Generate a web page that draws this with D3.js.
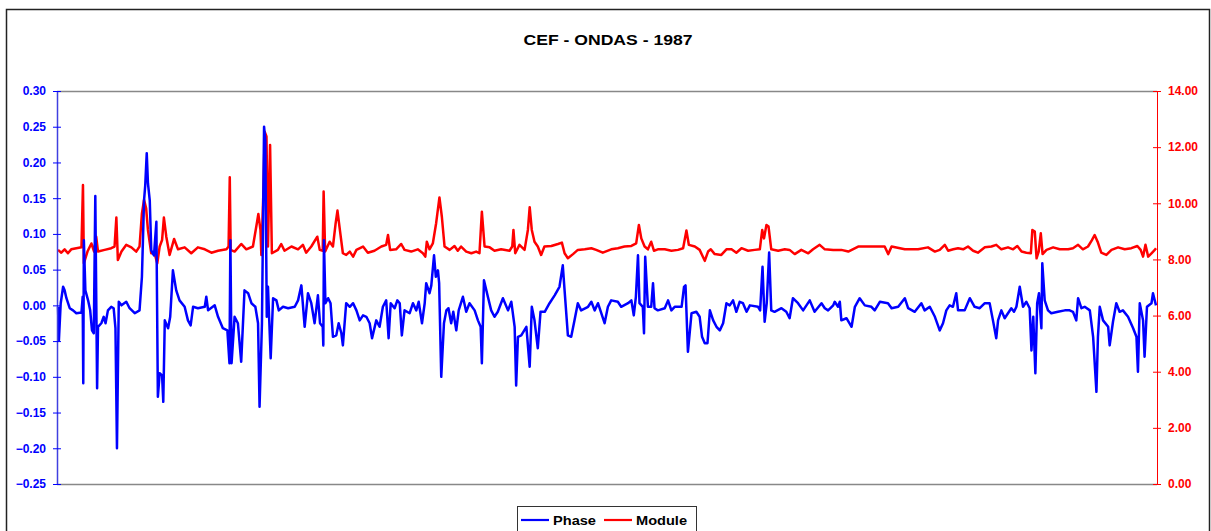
<!DOCTYPE html>
<html>
<head>
<meta charset="utf-8">
<script src="https://cdn.jsdelivr.net/npm/d3@7"></script>
<style>
body { margin: 0; background: #fff; }
svg { display: block; font-family: Arial, "Liberation Sans", sans-serif; }
</style>
</head>
<body>
<div class="chart"></div>
<script>
var title = "CEF - ONDAS - 1987";
var seriesNames = ["Phase", "Module"];
var phaseTicks = [-0.25, -0.20, -0.15, -0.10, -0.05, 0, 0.05, 0.10, 0.15, 0.20, 0.25, 0.30];
var moduleTicks = [0, 2, 4, 6, 8, 10, 12, 14];

// [day of 1987, value]
var phaseData = [
  [0,-0.002],[0.3,-0.049],[0.9,0.003],[1.7,0.026],[2.2,0.021],[2.8,0.010],[3.9,-0.004],[5.0,-0.007],[6.1,-0.011],[7.8,-0.010],
  [8.2,0.012],[8.4,-0.109],[8.6,0.091],[9.1,0.021],[10.0,0.007],[10.7,-0.007],[11.3,-0.035],[11.9,-0.039],[12.4,0.153],[13.0,-0.116],
  [13.3,-0.030],[14.4,-0.025],[15.2,-0.016],[15.8,-0.025],[16.6,-0.007],[17.7,-0.002],[18.5,-0.004],[19.1,-0.032],[19.6,-0.200],[20.2,0.005],
  [21.1,0.000],[22.7,0.005],[23.8,-0.004],[25.5,-0.011],[27.1,-0.007],[27.9,0.040],[28.6,0.147],[29.0,0.168],[29.5,0.213],[29.9,0.171],
  [30.5,0.147],[31.0,0.077],[31.9,0.070],[32.7,0.117],[33.2,-0.128],[33.8,-0.095],[34.6,-0.098],[35.0,-0.135],[35.5,-0.021],[36.6,-0.032],
  [37.3,-0.016],[38.2,0.049],[39.3,0.021],[40.4,0.007],[42.1,-0.002],[43.2,-0.021],[44.1,-0.028],[44.9,-0.002],[46.5,-0.004],[48.8,-0.002],
  [49.3,0.012],[49.9,-0.007],[52.1,0.000],[53.2,-0.016],[54.8,-0.032],[56.3,-0.035],[57.0,-0.081],[57.3,0.091],[57.7,-0.081],[58.7,-0.016],
  [59.8,-0.025],[60.9,-0.079],[62.0,0.021],[63.2,0.017],[64.3,0.003],[65.6,-0.002],[66.5,-0.025],[67.0,-0.142],[67.8,-0.025],[68.5,0.250],
  [68.9,0.231],[69.4,-0.016],[69.8,0.026],[70.7,-0.074],[71.5,0.010],[72.6,0.007],[73.4,-0.007],[74.8,-0.002],[76.5,-0.004],[78.7,-0.002],
  [79.8,0.007],[80.9,0.028],[82.0,-0.030],[83.1,0.017],[84.2,0.003],[85.3,-0.025],[86.4,0.014],[87.1,-0.025],[88.0,-0.030],[88.2,-0.056],
  [88.4,0.091],[88.9,0.003],[89.8,0.010],[90.6,0.003],[91.4,-0.044],[92.5,-0.042],[93.3,-0.025],[94.2,-0.039],[94.7,-0.056],[95.8,0.003],
  [97.0,-0.002],[98.1,0.003],[99.2,-0.007],
  [100.3,-0.021],[101.4,-0.014],[102.5,-0.016],[103.6,-0.025],[104.4,-0.046],[105.8,-0.021],[106.9,-0.030],[108.0,-0.002],[109.1,0.007],[109.9,-0.046],
  [110.6,0.003],[111.9,-0.004],[112.8,0.007],[113.6,0.003],[114.3,-0.042],[115.2,-0.007],[116.9,-0.011],[118.0,0.003],[119.1,-0.007],[119.9,0.005],
  [121.0,-0.025],[121.9,0.003],[122.4,0.031],[123.5,0.017],[124.1,0.028],[125.0,0.070],[125.6,0.040],[126.3,0.049],[126.7,0.031],[127.4,-0.100],
  [128.3,-0.025],[129.1,-0.007],[129.8,-0.004],[130.7,-0.025],[131.4,-0.009],[132.4,-0.035],[133.2,-0.007],[134.6,0.012],[135.7,-0.009],[136.8,0.003],
  [138.5,-0.007],[139.6,-0.021],[140.5,-0.030],[140.9,-0.081],[141.6,0.035],[142.9,0.012],[144.0,-0.007],[145.1,-0.016],[146.2,-0.009],[147.9,0.010],
  [149.6,-0.007],[150.7,0.005],[151.8,-0.030],[152.3,-0.112],[152.9,-0.044],[154.0,-0.042],[155.7,-0.030],[156.8,-0.086],[157.5,-0.002],[158.4,-0.021],
  [159.5,-0.060],[160.4,-0.009],[161.8,-0.009],[163.4,0.003],[165.1,0.014],[166.7,0.026],[167.8,0.056],[168.4,0.021],[169.5,-0.042],[170.6,-0.044],
  [171.7,-0.021],[172.8,0.003],[173.9,-0.007],[176.2,-0.002],[177.3,0.005],[178.4,-0.007],[179.5,0.003],[181.7,-0.025],[182.8,-0.002],[183.9,0.007],
  [186.1,0.005],[187.2,-0.002],[189.5,0.003],[190.6,0.007],[191.4,-0.014],[192.1,0.012],[192.8,0.070],[193.3,0.003],[194.4,-0.002],[194.8,-0.039],
  [195.2,0.068],[196.1,-0.002],[197.2,-0.002],[197.8,0.031],[198.3,-0.004],[199.4,-0.007],
  [201.7,-0.004],[202.8,0.007],[203.9,-0.007],[205.0,-0.002],[207.3,-0.002],[208.1,0.026],[208.6,0.028],[209.4,-0.065],[210.6,-0.011],[212.2,-0.009],
  [213.3,-0.016],[214.1,-0.044],[215.0,-0.053],[215.9,-0.053],[216.7,-0.007],[217.8,-0.021],[218.9,-0.030],[220.0,-0.035],[221.1,-0.025],[222.2,0.003],
  [223.3,0.000],[224.4,0.007],[225.5,-0.009],[226.6,0.005],[227.7,0.003],[228.9,-0.009],[230.0,0.000],[232.7,-0.002],[233.4,-0.007],[234.2,0.054],
  [234.9,-0.023],[235.6,0.003],[236.4,0.074],[237.1,-0.007],[238.2,-0.009],[240.5,-0.004],[242.1,-0.009],[243.2,-0.018],[244.3,0.010],[246.0,0.003],
  [247.7,-0.007],[249.9,0.007],[251.5,-0.009],[253.8,0.003],[254.9,-0.004],[256.0,-0.007],[257.7,0.000],[258.2,0.005],[259.3,-0.002],[259.9,0.005],
  [260.4,-0.021],[262.1,-0.018],[263.8,-0.030],[264.9,-0.002],[266.5,0.010],[268.2,0.000],[270.4,-0.002],[271.5,-0.007],[273.2,0.005],[275.9,0.003],
  [277.1,-0.004],[279.3,-0.002],[281.5,0.010],[282.6,-0.004],[284.8,-0.009],[287.0,0.003],[288.1,-0.007],[289.8,-0.002],[291.5,-0.016],[293.1,-0.035],
  [294.2,-0.025],[295.3,-0.007],[296.4,0.000],[297.5,-0.002],[298.6,0.017],[299.2,-0.007],
  [301.4,-0.007],[303.1,0.010],[304.7,-0.002],[306.4,-0.004],[308.1,0.003],[309.7,0.003],[310.8,-0.021],[311.9,-0.046],[312.5,-0.021],[313.6,-0.007],
  [314.7,-0.018],[315.8,-0.011],[316.9,-0.004],[317.8,-0.009],[318.6,-0.002],[319.7,0.026],[320.8,-0.002],[321.9,0.005],[323.0,-0.004],[323.6,-0.063],
  [324.2,-0.016],[324.9,-0.095],[325.5,0.003],[326.1,0.017],[326.9,-0.032],[327.2,0.059],[328.0,0.007],[329.1,-0.007],[330.2,-0.011],[332.4,-0.009],
  [334.7,-0.007],[336.3,-0.007],[337.4,-0.009],[338.5,-0.021],[339.1,0.010],[340.2,-0.004],[341.3,-0.002],[343.0,-0.007],[344.1,-0.044],[345.2,-0.121],
  [345.7,-0.044],[346.3,-0.002],[347.4,-0.021],[349.1,-0.030],[349.6,-0.056],[350.7,-0.023],[351.8,0.003],[352.9,-0.009],[354.0,-0.007],[355.7,-0.016],
  [357.4,-0.032],[358.5,-0.044],[359.0,-0.093],[359.6,0.003],[360.7,-0.021],[361.2,-0.072],[362.0,-0.002],[363.5,0.003],[364.0,0.017],[365.0,0.000]
];

var moduleData = [
  [0,8.34],[1.1,8.24],[2.2,8.36],[3.3,8.22],[4.4,8.36],[6.1,8.40],[7.8,8.43],[8.3,10.65],[8.6,7.86],[9.8,8.28],
  [11.1,8.57],[12.0,8.28],[12.7,8.81],[13.3,8.28],[15.5,8.34],[17.7,8.40],[18.8,8.46],[19.4,9.49],[19.9,7.98],[21.1,8.28],
  [22.7,8.52],[24.4,8.43],[26.0,8.28],[27.1,8.46],[27.9,9.64],[28.6,10.12],[29.3,9.82],[29.9,9.05],[31.0,8.22],[32.1,8.22],
  [33.0,7.86],[33.8,8.46],[34.6,8.69],[35.2,9.49],[36.0,8.81],[37.1,8.16],[38.6,8.73],[39.9,8.36],[42.1,8.43],[44.3,8.22],
  [46.5,8.43],[48.8,8.36],[51.0,8.24],[53.2,8.31],[56.0,8.36],[56.7,8.46],[57.1,10.93],[57.4,8.34],[58.7,8.28],[60.9,8.55],
  [62.6,8.36],[64.8,8.46],[66.1,9.29],[66.6,9.62],[67.3,9.05],[67.6,8.16],[68.3,10.47],[68.7,12.55],[69.3,12.38],[69.8,8.46],
  [70.5,12.08],[71.1,8.22],[73.1,8.34],[74.2,8.55],[75.3,8.31],[77.6,8.46],[79.8,8.36],[81.4,8.52],[82.5,8.24],[84.2,8.46],
  [86.2,8.81],[87.0,8.34],[88.0,8.31],[88.3,10.42],[88.8,8.28],[90.3,8.63],[91.4,8.46],[92.3,9.29],[92.9,9.74],[93.7,9.05],
  [94.7,8.22],[95.8,8.16],[97.0,8.28],[98.1,8.10],[99.2,8.34],
  [101.4,8.46],[103.0,8.24],[105.2,8.31],[107.5,8.46],[109.1,8.52],[109.7,8.87],[110.4,8.34],[112.4,8.36],[114.1,8.55],[115.2,8.34],
  [117.4,8.28],[119.6,8.36],[121.3,8.22],[122.1,8.10],[122.6,8.63],[123.5,8.36],[124.6,8.57],[125.7,9.29],[126.8,10.21],[127.6,9.52],
  [128.5,8.46],[130.2,8.34],[131.8,8.48],[132.9,8.31],[134.0,8.46],[135.7,8.28],[137.4,8.22],[139.0,8.28],[140.1,8.22],[140.9,9.70],
  [141.8,8.46],[143.5,8.43],[145.1,8.31],[147.3,8.36],[150.1,8.31],[151.0,8.46],[151.4,9.05],[152.0,8.22],[153.4,8.52],[155.1,8.34],
  [156.2,9.05],[156.8,9.86],[157.5,9.05],[158.4,8.63],[159.5,8.46],[160.6,8.16],[161.7,8.46],[164.0,8.48],[166.2,8.55],[167.5,8.60],
  [168.4,8.22],[169.5,8.04],[171.2,8.19],[172.8,8.34],[175.1,8.36],[177.3,8.40],[178.9,8.34],[181.1,8.24],[183.9,8.36],[186.1,8.40],
  [188.3,8.46],[190.6,8.48],[192.2,8.57],[193.1,9.23],[193.9,8.75],[195.0,8.46],[196.1,8.36],[197.2,8.63],[198.1,8.31],[199.4,8.36],
  [201.7,8.36],[203.9,8.31],[206.1,8.34],[207.8,8.40],[208.9,9.03],[209.7,8.52],[211.7,8.46],[213.3,8.34],[215.0,7.95],[216.1,8.28],
  [217.0,8.36],[218.3,8.19],[220.5,8.16],[222.2,8.36],[223.9,8.36],[225.5,8.24],[227.2,8.40],[229.4,8.31],[231.6,8.34],[233.3,8.36],
  [234.1,9.05],[234.7,8.75],[235.5,9.23],[236.2,9.17],[237.1,8.36],[239.4,8.31],[241.6,8.36],[243.2,8.34],[244.9,8.19],[247.1,8.34],
  [249.4,8.22],[251.0,8.36],[253.2,8.52],[254.9,8.36],[257.7,8.34],[260.4,8.34],[262.7,8.28],[266.0,8.46],[270.4,8.46],[274.8,8.46],
  [276.0,8.19],[277.1,8.46],[281.5,8.36],[285.9,8.36],[289.2,8.43],[291.5,8.28],[293.1,8.34],[294.8,8.52],[295.9,8.31],[297.6,8.36],
  [299.2,8.40],
  [300.9,8.36],[302.5,8.46],[304.2,8.31],[305.8,8.24],[308.1,8.43],[310.3,8.46],[311.9,8.52],[313.6,8.36],[315.8,8.43],[317.5,8.36],
  [318.9,8.48],[320.3,8.28],[321.9,8.24],[323.4,8.22],[323.9,9.05],[324.7,8.99],[325.3,8.04],[326.0,8.28],[326.7,8.93],[327.3,8.19],
  [328.6,8.34],[330.8,8.43],[333.0,8.36],[335.8,8.36],[337.4,8.40],[339.1,8.52],[340.7,8.36],[342.4,8.46],[343.7,8.69],[344.6,8.87],
  [345.7,8.60],[346.8,8.24],[348.5,8.16],[350.2,8.34],[352.4,8.43],[354.6,8.36],[356.8,8.40],[358.8,8.48],[359.9,8.34],[360.7,8.10],
  [361.5,8.52],[362.4,8.10],[363.5,8.22],[364.6,8.34],[365.0,8.40]
];

var margin = {top: 91, left: 57},
    width = 1100,
    height = 393;

var svg = d3.select(".chart").append("svg")
    .attr("width", 1211)
    .attr("height", 531);

// outer chart border (bottom runs past the picture)
svg.append("rect")
    .attr("x", 6.5).attr("y", 9.5)
    .attr("width", 1203).attr("height", 560)
    .attr("fill", "#fff")
    .attr("stroke", "#222")
    .attr("stroke-width", 1.5);

svg.append("text")
    .attr("x", 608).attr("y", 45)
    .attr("text-anchor", "middle")
    .attr("textLength", 169)
    .attr("lengthAdjust", "spacingAndGlyphs")
    .style("font-size", "15px")
    .style("font-weight", "bold")
    .text(title);

var g = svg.append("g")
    .attr("transform", "translate(" + margin.left + "," + margin.top + ")");

var x = d3.scaleLinear().domain([0, 365]).range([1, width - 1]);
var yL = d3.scaleLinear().domain([-0.25, 0.30]).range([height, 0]);
var yR = d3.scaleLinear().domain([0, 14]).range([height, 0]);

// plot area top and bottom edges
g.selectAll(".edge")
  .data([0, height])
  .enter().append("line")
    .attr("x1", 0).attr("x2", width)
    .attr("y1", function(d) { return d + 0.5; })
    .attr("y2", function(d) { return d + 0.5; })
    .attr("stroke", "#888")
    .attr("stroke-width", 1.5);

var line = d3.line()
  .x(function(d) { return x(d[0]); });

g.append("path")
    .datum(moduleData)
    .attr("fill", "none")
    .attr("stroke", "#ff0000")
    .attr("stroke-width", 2.5)
    .attr("stroke-linejoin", "round")
    .attr("d", line.y(function(d) { return yR(d[1]); }));

g.append("path")
    .datum(phaseData)
    .attr("fill", "none")
    .attr("stroke", "#0000ff")
    .attr("stroke-width", 2.5)
    .attr("stroke-linejoin", "round")
    .attr("d", line.y(function(d) { return yL(d[1]); }));

var leftAxis = g.append("g")
    .attr("class", "y axis")
    .call(d3.axisLeft(yL).tickValues(phaseTicks).tickFormat(d3.format(".2f"))
      .tickSize(4).tickSizeOuter(0).tickPadding(7));
leftAxis.select(".domain").attr("stroke", "#4040e0").attr("stroke-width", 1.5);
leftAxis.selectAll(".tick line").attr("x1", 4).attr("stroke", "#0000ff");
leftAxis.selectAll(".tick text")
    .attr("fill", "#0000ff")
    .style("font-size", "12px")
    .style("font-weight", "bold");

var rightAxis = g.append("g")
    .attr("class", "y axis")
    .attr("transform", "translate(" + width + ",0)")
    .call(d3.axisRight(yR).tickValues(moduleTicks).tickFormat(d3.format(".2f"))
      .tickSize(4).tickSizeOuter(0).tickPadding(7));
rightAxis.select(".domain").attr("stroke", "#ff0000");
rightAxis.selectAll(".tick line").attr("x1", -4).attr("stroke", "#ff0000");
rightAxis.selectAll(".tick text")
    .attr("fill", "#ff0000")
    .style("font-size", "12px")
    .style("font-weight", "bold");

// legend
var legend = svg.append("g").attr("transform", "translate(517,506)");
legend.append("rect")
    .attr("x", 0.5).attr("y", 0.5)
    .attr("width", 179).attr("height", 32)
    .attr("fill", "#fff")
    .attr("stroke", "#333");

var colors = ["#0000ff", "#ff0000"];
var offsets = [0, 83];
var textLens = [43, 51];
seriesNames.forEach(function(name, i) {
  legend.append("line")
      .attr("x1", 4 + offsets[i]).attr("x2", 32 + offsets[i])
      .attr("y1", 14).attr("y2", 14)
      .attr("stroke", colors[i])
      .attr("stroke-width", 2.2);
  legend.append("text")
      .attr("x", 36 + offsets[i]).attr("y", 18.5)
      .attr("textLength", textLens[i])
      .attr("lengthAdjust", "spacingAndGlyphs")
      .style("font-size", "13px")
      .style("font-weight", "bold")
      .text(name);
});
</script>
</body>
</html>
